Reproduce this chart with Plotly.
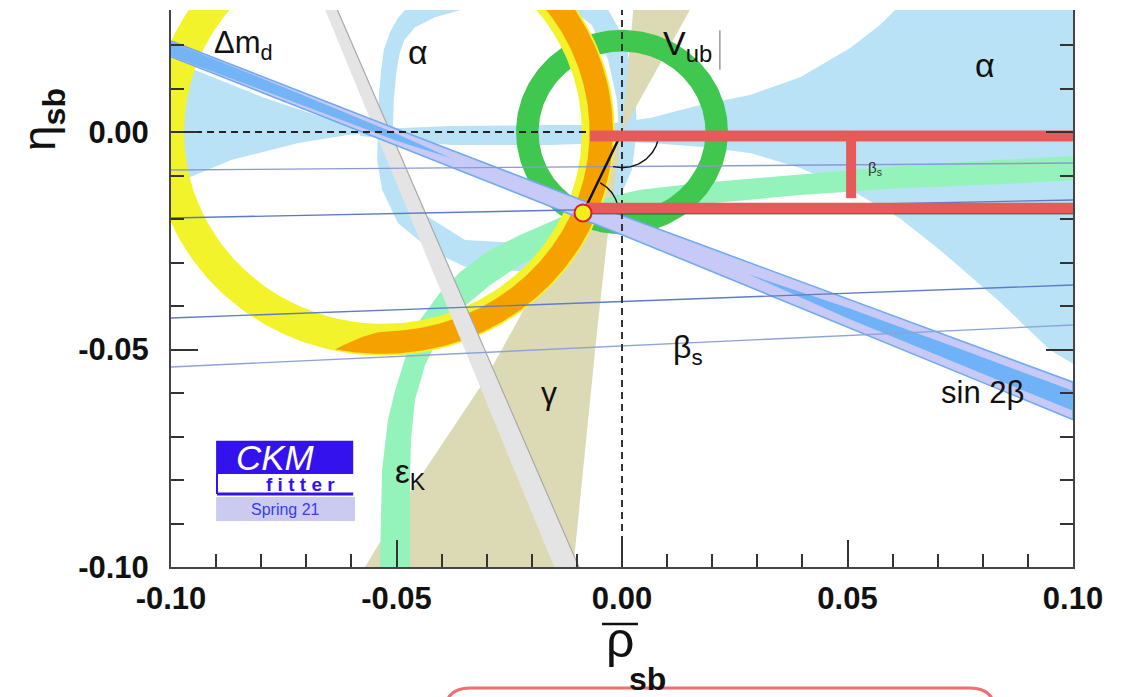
import numpy as np
import plotly.graph_objects as go

FONT = "Liberation Sans, Arial, Helvetica, sans-serif"

# ---------------------------------------------------------------
# Constraint values in the (rho_sb, eta_sb) plane
# ---------------------------------------------------------------
# Delta m_d annulus
DMD_CENTER = (-0.053, 0.0)
DMD_R = (0.0441, 0.0514)
# Delta m_s / Delta m_d arc (same centre), angular span in degrees
DMS_R = (0.0458, 0.0510)
DMS_TIP_R = 0.0511
DMS_THETA = (-102.0, 60.0)
DMS_TAPER_END = -88.0
# |V_ub| annulus around the origin
VUB_CENTER = (0.0, 0.0)
VUB_R = (0.0185, 0.0235)

# alpha: left wedge, central strip, right wedge, loop
ALPHA_LEFT_X = [-0.1020, -0.1000, -0.0936, -0.0792, -0.0647, -0.0570, -0.0537,
                -0.0608, -0.0718, -0.0865, -0.1000, -0.1020]
ALPHA_LEFT_Y = [0.0166, 0.0166, 0.0138, 0.0078, 0.0028, 0.0009, 0.0000,
                -0.0007, -0.0025, -0.0064, -0.0122, -0.0122]
ALPHA_MID_X = [-0.0581, -0.0381, -0.0160, -0.0027, -0.0027, -0.0160, -0.0381, -0.0581]
ALPHA_MID_Y = [0.0005, 0.0014, 0.0016, 0.0016, -0.0025, -0.0030, -0.0030, -0.0009]
ALPHA_RIGHT_X = [-0.0049, 0.0062, 0.0173, 0.0284, 0.0395, 0.0506, 0.0572, 0.0605, 0.0639,
                 0.1020, 0.1020, 0.0949, 0.0838, 0.0705, 0.0616, 0.0506, 0.0395, 0.0284,
                 0.0173, 0.0062, -0.0049]
ALPHA_RIGHT_Y = [0.0016, 0.0032, 0.0062, 0.0085, 0.0126, 0.0193, 0.0246, 0.0280, 0.0326,
                 0.0326, -0.0545, -0.0501, -0.0391, -0.0271, -0.0198, -0.0133, -0.0083, -0.0048,
                 -0.0034, -0.0025, -0.0021]
ALPHA_LOOP_OUT_X = [-0.0541, -0.0539, -0.0534, -0.0528, -0.0514, -0.0497, -0.0481, -0.0448,
                    -0.0381, -0.0271, -0.0137, -0.0049, 0.0007, 0.0029, 0.0033, 0.0022,
                    -0.0022, -0.0104, -0.0226, -0.0348, -0.0421, -0.0497, -0.0532, -0.0543]
ALPHA_LOOP_OUT_Y = [0.0005, 0.0085, 0.0143, 0.0189, 0.0230, 0.0262, 0.0280, 0.0315,
                    0.0349, 0.0372, 0.0361, 0.0315, 0.0211, 0.0097, 0.0005, -0.0087,
                    -0.0191, -0.0276, -0.0320, -0.0310, -0.0274, -0.0209, -0.0133, -0.0064]
ALPHA_LOOP_IN_X = [-0.0508, -0.0506, -0.0501, -0.0494, -0.0483, -0.0459, -0.0415, -0.0359,
                   -0.0293, -0.0204, -0.0126, -0.0067, -0.0031, -0.0011, -0.0007, -0.0020,
                   -0.0058, -0.0126, -0.0226, -0.0348, -0.0430, -0.0481, -0.0503]
ALPHA_LOOP_IN_Y = [0.0005, 0.0074, 0.0131, 0.0177, 0.0211, 0.0241, 0.0264, 0.0280,
                   0.0297, 0.0303, 0.0292, 0.0246, 0.0166, 0.0074, 0.0005, -0.0064,
                   -0.0145, -0.0214, -0.0255, -0.0248, -0.0195, -0.0133, -0.0064]

# gamma: double wedge through the origin
GAMMA_LOW_X = [0.0, -0.0304, -0.0477, -0.0576, -0.0109, -0.0082, -0.0055, -0.0033]
GAMMA_LOW_Y = [0.0, -0.0570, -0.0839, -0.1011, -0.1011, -0.0731, -0.0455, -0.0248]
GAMMA_UP_X = [0.0, 0.0029, 0.0175]
GAMMA_UP_Y = [0.0, 0.0326, 0.0326]

# epsilon_K band
EPSK_OUT_X = [-0.0537, -0.0532, -0.0519, -0.0503, -0.0475, -0.0448, -0.0404, -0.0359, -0.0293,
              -0.0226, -0.0160, -0.0093, -0.0027, 0.0040, 0.0173, 0.0395, 0.0616, 0.0838, 0.1016]
EPSK_OUT_Y = [-0.1011, -0.0777, -0.0662, -0.0593, -0.0501, -0.0432, -0.0370, -0.0322, -0.0271,
              -0.0237, -0.0207, -0.0175, -0.0149, -0.0133, -0.0117, -0.0097, -0.0078, -0.0064, -0.0055]
EPSK_IN_X = [0.1016, 0.0838, 0.0616, 0.0395, 0.0173, 0.0040, -0.0049, -0.0137, -0.0226,
             -0.0293, -0.0359, -0.0404, -0.0437, -0.0459, -0.0468, -0.0470, -0.0470]
EPSK_IN_Y = [-0.0110, -0.0120, -0.0129, -0.0145, -0.0166, -0.0184, -0.0214, -0.0260, -0.0306,
             -0.0352, -0.0409, -0.0467, -0.0536, -0.0616, -0.0708, -0.0800, -0.1011]

# grey straight band
GREY_X = [-0.0676, -0.0650, -0.0091, -0.0146]
GREY_Y = [0.0326, 0.0326, -0.1011, -0.1011]

# sin 2beta band: centre line and half widths
S2B_X = [-0.1000, -0.0500, 0.0000, 0.0500, 0.1000]
S2B_CENTER = [0.0191, -0.0012, -0.0214, -0.0416, -0.0618]
S2B_HALF = [0.0018, 0.0019, 0.0022, 0.0032, 0.0043]
S2B_CORE_L_X = [-0.1000, -0.0750, -0.0500, -0.0380]
S2B_CORE_L_C = [0.0191, 0.0090, -0.0012, -0.0060]
S2B_CORE_L_H = [0.0016, 0.0013, 0.0008, 0.0]
S2B_CORE_R_X = [0.0280, 0.0500, 0.0750, 0.1000]
S2B_CORE_R_C = [-0.0327, -0.0416, -0.0517, -0.0618]
S2B_CORE_R_H = [0.0, 0.0012, 0.0018, 0.0023]

# beta_s lines (end points at rho = -0.1 and 0.1)
BETAS_LINES_Y = [(-0.00874, -0.00713), (-0.01977, -0.01563),
                 (-0.04276, -0.03517), (-0.05402, -0.04437)]
BETAS_LINE_COLORS = ["#8a9ad2", "#5c78c8", "#5f7cc8", "#8fa3d8"]

# fitted apex and triangle
APEX = (-0.00865, -0.0186)
ARC_ORIGIN = (-104.0, -13.0, 0.0082)   # start deg, end deg, radius
ARC_APEX = (61.0, 14.0, 0.0079)

# highlighted sides
HL_Y = [-0.0009, -0.0175]
HL_X0 = [-0.0071, -0.0080]
HL_VERT_X = 0.0508
HL_VERT_Y = (-0.0005, -0.0152)

fig = go.Figure()


def add_poly(x, y, fill, line=None, lw=0.0):
    fig.add_trace(go.Scatter(
        x=list(x), y=list(y), mode="lines", fill="toself", fillcolor=fill,
        line=dict(color=line or fill, width=lw), hoverinfo="skip", showlegend=False))


def add_line(x, y, color, width, dash=None):
    fig.add_trace(go.Scatter(
        x=list(x), y=list(y), mode="lines",
        line=dict(color=color, width=width, dash=dash),
        hoverinfo="skip", showlegend=False))


def ring_xy(xo, yo, xi, yi):
    """Outer loop, then the inner loop in reverse: a band with a hole."""
    xi_r, yi_r = list(xi)[::-1], list(yi)[::-1]
    x = list(xo) + [xo[0]] + xi_r + [xi_r[0], xo[0]]
    y = list(yo) + [yo[0]] + yi_r + [yi_r[0], yo[0]]
    return x, y


def annulus(center, r_in, r_out, n=240):
    t = np.linspace(0, 2 * np.pi, n)
    xo = center[0] + r_out * np.cos(t)
    yo = center[1] + r_out * np.sin(t)
    xi = center[0] + r_in * np.cos(t)
    yi = center[1] + r_in * np.sin(t)
    return ring_xy(xo, yo, xi, yi)


def band(xs, centers, halves):
    xs = np.asarray(xs)
    c = np.asarray(centers)
    h = np.asarray(halves)
    return (np.concatenate([xs, xs[::-1]]),
            np.concatenate([c + h, (c - h)[::-1]]))


# ---- alpha (light blue)
ALPHA_COL = "#b9e2f6"
add_poly(ALPHA_LEFT_X, ALPHA_LEFT_Y, ALPHA_COL)
add_poly(ALPHA_MID_X, ALPHA_MID_Y, ALPHA_COL)
add_poly(ALPHA_RIGHT_X, ALPHA_RIGHT_Y, ALPHA_COL)
lx, ly = ring_xy(ALPHA_LOOP_OUT_X, ALPHA_LOOP_OUT_Y, ALPHA_LOOP_IN_X, ALPHA_LOOP_IN_Y)
add_poly(lx, ly, ALPHA_COL)

# ---- gamma (khaki)
GAMMA_COL = "#dcdab5"
add_poly(GAMMA_LOW_X, GAMMA_LOW_Y, GAMMA_COL)
add_poly(GAMMA_UP_X, GAMMA_UP_Y, GAMMA_COL)

# ---- epsilon_K (mint)
add_poly(EPSK_OUT_X + EPSK_IN_X, EPSK_OUT_Y + EPSK_IN_Y, "#94f3bb")

# ---- |V_ub| (green ring)
vx, vy = annulus(VUB_CENTER, VUB_R[0], VUB_R[1])
add_poly(vx, vy, "#3fc74f")

# ---- Delta m_d (yellow ring)
dx, dy = annulus(DMD_CENTER, DMD_R[0], DMD_R[1])
add_poly(dx, dy, "#f3f32c")

# ---- Delta m_s / Delta m_d (orange arc with a tapered tip)
th = np.radians(np.linspace(DMS_THETA[0], DMS_THETA[1], 240))
thd = np.degrees(th)
frac = np.clip((DMS_TAPER_END - thd) / (DMS_TAPER_END - DMS_THETA[0]), 0, 1) ** 2
r_in = DMS_R[0] + (DMS_TIP_R - DMS_R[0]) * frac
r_out = DMS_R[1] + (DMS_TIP_R - DMS_R[1]) * frac
ox = np.concatenate([DMD_CENTER[0] + r_out * np.cos(th), (DMD_CENTER[0] + r_in * np.cos(th))[::-1]])
oy = np.concatenate([DMD_CENTER[1] + r_out * np.sin(th), (DMD_CENTER[1] + r_in * np.sin(th))[::-1]])
add_poly(ox, oy, "#f5a200")

# ---- grey band
add_poly(GREY_X, GREY_Y, "#e4e4e4", line="#a9a9a9", lw=1.2)

# ---- sin 2beta
sx, sy = band(S2B_X, S2B_CENTER, S2B_HALF)
add_poly(sx, sy, "#c7c9f6", line="#70aaf0", lw=1.6)
cx, cy = band(S2B_CORE_L_X, S2B_CORE_L_C, S2B_CORE_L_H)
add_poly(cx, cy, "#72b4f6")
cx, cy = band(S2B_CORE_R_X, S2B_CORE_R_C, S2B_CORE_R_H)
add_poly(cx, cy, "#6fb2f7")

# ---- beta_s lines
for (y0, y1), col in zip(BETAS_LINES_Y, BETAS_LINE_COLORS):
    add_line([-0.1, 0.1], [y0, y1], col, 1.4)

# ---- dashed axes through the origin
add_line([0, 0], [-0.1, 0.03], "#333333", 2, dash="7px,5px")
add_line([-0.1, 0.1], [0, 0], "#222222", 2, dash="7px,5px")

# ---- triangle sides and angle arcs
add_line([APEX[0], 0.1], [APEX[1], APEX[1]], "#111111", 2.5)
add_line([APEX[0], 0.0], [APEX[1], 0.0], "#111111", 2.5)
a = np.radians(np.linspace(ARC_ORIGIN[0], ARC_ORIGIN[1], 60))
add_line(ARC_ORIGIN[2] * np.cos(a), ARC_ORIGIN[2] * np.sin(a), "#111111", 1.4)
a = np.radians(np.linspace(ARC_APEX[0], ARC_APEX[1], 60))
add_line(APEX[0] + ARC_APEX[2] * np.cos(a), APEX[1] + ARC_APEX[2] * np.sin(a), "#111111", 1.4)

# ---- highlighted sides (red)
RED = "#e65a5a"
for y, x0 in zip(HL_Y, HL_X0):
    add_line([x0, 0.1], [y, y], RED, 11)
add_line([HL_VERT_X, HL_VERT_X], list(HL_VERT_Y), RED, 10)

# ---- apex
fig.add_trace(go.Scatter(
    x=[APEX[0]], y=[APEX[1]], mode="markers",
    marker=dict(size=17, color="#f3ee18", line=dict(color="#d42020", width=2)),
    hoverinfo="skip", showlegend=False))

# ---------------------------------------------------------------
# labels
# ---------------------------------------------------------------
def label(x, y, text, size, color="#111111", **kw):
    fig.add_annotation(x=x, y=y, text=text, showarrow=False,
                       font=dict(family=FONT, size=size, color=color), **kw)


label(-0.0840, 0.0200, "Δm<sub>d</sub>", 31)
label(-0.0452, 0.0184, "α", 34)
label(0.0805, 0.0154, "α", 34)
label(0.0146, 0.0200, "V<sub>ub</sub>", 34)
label(0.0561, -0.0083, "β<sub>s</sub>", 15, color="#333333")
label(0.0146, -0.0501, "β<sub>s</sub>", 32)
label(-0.0162, -0.0600, "γ", 32)
label(0.0800, -0.0598, "sin 2β", 31)
label(-0.0470, -0.0786, "ε<sub>K</sub>", 33)

# grey bar of the |V_ub| label
fig.add_shape(type="line", x0=0.0217, x1=0.0217, y0=0.0143, y1=0.0234,
              line=dict(color="#9a9a9a", width=1.5))

# CKMfitter logo
fig.add_shape(type="rect", x0=-0.0900, x1=-0.0596, y0=-0.0786, y1=-0.0710,
              fillcolor="#3412ee", line=dict(width=0))
fig.add_shape(type="rect", x0=-0.0898, x1=-0.0596, y0=-0.0832, y1=-0.0786,
              fillcolor="white", line=dict(width=0))
fig.add_shape(type="line", x0=-0.0898, x1=-0.0898, y0=-0.0832, y1=-0.0786,
              line=dict(color="#3412ee", width=2))
fig.add_shape(type="line", x0=-0.0898, x1=-0.0596, y0=-0.0832, y1=-0.0832,
              line=dict(color="#3412ee", width=3))
fig.add_shape(type="rect", x0=-0.0900, x1=-0.0592, y0=-0.0894, y1=-0.0839,
              fillcolor="#cbcbf2", line=dict(width=0))
fig.add_annotation(x=-0.0769, y=-0.0749, text="CKM", showarrow=False,
                   font=dict(family=FONT, size=35, color="white", style="italic"))
fig.add_annotation(x=-0.0712, y=-0.0810, text="<b>f i t t e r</b>", showarrow=False,
                   font=dict(family=FONT, size=19, color="#3412ee"))
fig.add_annotation(x=-0.0747, y=-0.0867, text="Spring 21", showarrow=False,
                   font=dict(family=FONT, size=16, color="#3a3af0"))

# axis titles
fig.add_annotation(xref="paper", yref="paper", x=-0.143, y=0.8025,
                   xanchor="center", yanchor="middle",
                   text="η<sub><b>sb</b></sub>", textangle=-90, showarrow=False,
                   font=dict(family=FONT, size=46, color="#111111"))
fig.add_annotation(xref="paper", yref="paper", x=0.4978, y=-0.131,
                   xanchor="center", yanchor="middle",
                   text="ρ", showarrow=False,
                   font=dict(family=FONT, size=50, color="#111111"))
fig.add_annotation(xref="paper", yref="paper", x=0.5288, y=-0.2011,
                   xanchor="center", yanchor="middle",
                   text="<b>sb</b>", showarrow=False,
                   font=dict(family=FONT, size=32, color="#111111"))
# bar over rho
fig.add_shape(type="line", xref="paper", yref="paper",
              x0=0.4778, x1=0.5177, y0=-0.1023, y1=-0.1023,
              line=dict(color="#111111", width=2.5))

# red rounded frame below the chart
x0, x1, yt, yb = 0.3038, 0.9135, -0.2172, -0.3465
rx, ry = 0.0277, 0.0449
fig.add_shape(type="path", xref="paper", yref="paper",
              path=(f"M {x0},{yb} L {x0},{yt - ry} Q {x0},{yt} {x0 + rx},{yt} "
                    f"L {x1 - rx},{yt} Q {x1},{yt} {x1},{yt - ry} L {x1},{yb}"),
              line=dict(color="#f07070", width=3))

TICK_FONT = dict(family=FONT, size=31, color="#111111", weight="bold")
X_TICKS = [-0.10, -0.05, 0.00, 0.05, 0.10]
Y_TICKS = [-0.10, -0.05, 0.00]

fig.update_xaxes(
    range=[-0.1, 0.1], showgrid=False, zeroline=False,
    showline=True, linecolor="#444444", linewidth=2, mirror=False,
    tickmode="array", tickvals=X_TICKS, ticktext=[f"{v:.2f}" for v in X_TICKS],
    ticks="inside", ticklen=27, tickwidth=2, tickcolor="#333333",
    minor=dict(dtick=0.01, tick0=0, ticks="inside", ticklen=13, tickwidth=2, tickcolor="#333333"),
    tickfont=TICK_FONT, ticklabelstandoff=3)
fig.update_yaxes(
    range=[-0.1, 0.02805], showgrid=False, zeroline=False,
    showline=True, linecolor="#444444", linewidth=2, mirror="ticks",
    tickmode="array", tickvals=Y_TICKS, ticktext=[f"{v:.2f}" for v in Y_TICKS],
    ticks="inside", ticklen=27, tickwidth=2, tickcolor="#333333",
    minor=dict(dtick=0.01, tick0=0, ticks="inside", ticklen=13, tickwidth=2, tickcolor="#333333"),
    tickfont=TICK_FONT, ticklabelstandoff=14)

fig.update_layout(
    width=1135, height=697,
    margin=dict(l=171, r=62, t=10, b=130),
    plot_bgcolor="white", paper_bgcolor="white",
    showlegend=False)

fig.write_html("out.html")
